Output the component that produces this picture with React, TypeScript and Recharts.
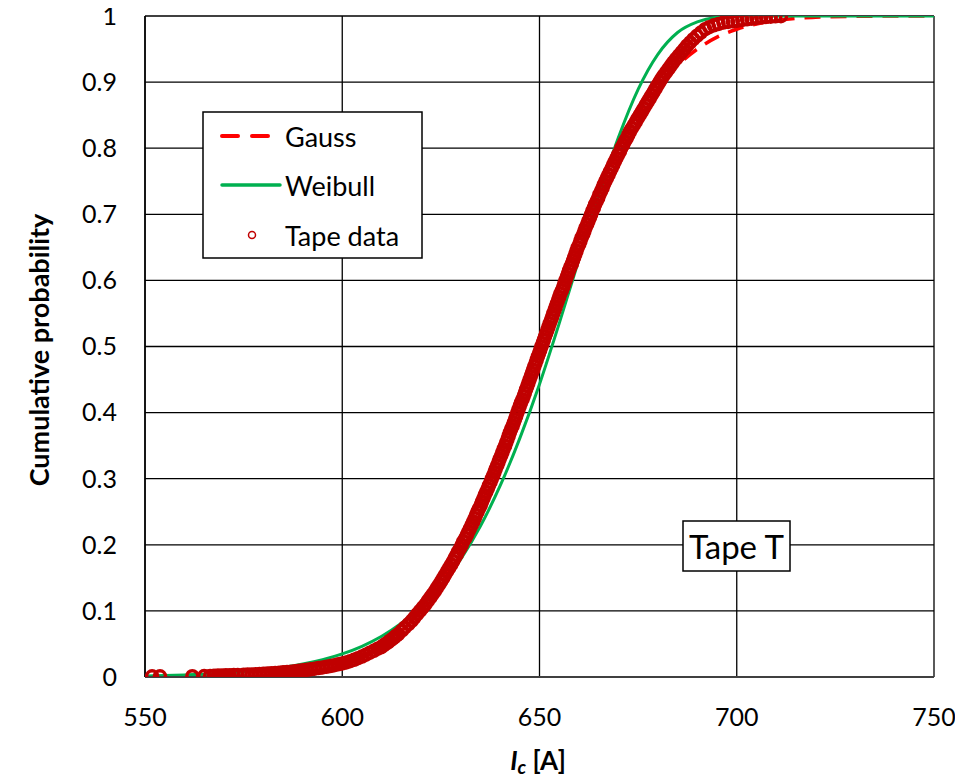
import React from 'react';
import { ComposedChart, Line, Scatter, XAxis, YAxis, CartesianGrid } from 'recharts';

// axis ticks
const xTicks = [550, 600, 650, 700, 750];
const yTicks = [0, 0.1, 0.2, 0.3, 0.4, 0.5, 0.6, 0.7, 0.8, 0.9, 1];

// Gauss fit
const gaussIc = [550, 560, 570, 575, 580, 585, 590, 595, 600, 605, 610, 615, 620, 625, 630, 635, 640, 645, 650, 655, 660, 665, 670, 675, 680, 685, 690, 695, 700, 705, 710, 715, 720, 730, 740, 750];
const gaussP = [0, 0.0001, 0.0004, 0.0008, 0.0016, 0.0032, 0.0059, 0.0104, 0.0179, 0.029, 0.0455, 0.0694, 0.102, 0.145, 0.197, 0.259, 0.331, 0.409, 0.492, 0.574, 0.654, 0.727, 0.792, 0.846, 0.891, 0.925, 0.95, 0.968, 0.98, 0.988, 0.993, 0.9964, 0.998, 0.9995, 0.9999, 1];

// Weibull fit (green curve)
const weibullIc = [550, 555, 560, 565, 570, 575, 580, 585, 590, 595, 600, 605, 610, 615, 620, 625, 630, 635, 640, 645, 650, 655, 660, 665, 670, 675, 680, 685, 690, 695, 700, 705, 750];
const weibullP = [0.0017, 0.0023, 0.0032, 0.0043, 0.0059, 0.008, 0.0108, 0.0146, 0.0196, 0.0262, 0.035, 0.0465, 0.0616, 0.0812, 0.106, 0.138, 0.178, 0.228, 0.289, 0.361, 0.443, 0.535, 0.632, 0.728, 0.816, 0.889, 0.942, 0.975, 0.991, 0.998, 0.9996, 1, 1];

// measured tape data [Ic, cumulative probability]
const tapeData: [number, number][] = [
  [551.8, 0.001], [553.8, 0.001], [562.0, 0.0012], [565.0, 0.0015], [566.5, 0.0017], [567.5, 0.0019], [568.5, 0.0021], [569.5, 0.0023], [570.5, 0.0025], [571.5, 0.0027],
  [572.5, 0.0029], [573.5, 0.0031], [575.0, 0.0034], [576.0, 0.0036], [577.0, 0.0039], [578.0, 0.0042], [579.0, 0.0045], [580.0, 0.0048], [581.0, 0.0052], [582.0, 0.0056],
  [583.0, 0.006], [584.0, 0.0065], [585.0, 0.007], [586.0, 0.0075], [587.0, 0.0081], [588.0, 0.0087], [589.0, 0.0094], [590.0, 0.0101], [591.0, 0.0109], [592.0, 0.0117],
  [593.0, 0.0126], [594.0, 0.0135], [595.0, 0.0145], [596.0, 0.0155], [597.0, 0.0166], [598.0, 0.0178], [599.0, 0.0191], [600.0, 0.0205], [601.0, 0.0221], [602.0, 0.024],
  [603.0, 0.026], [604.0, 0.0284], [605.0, 0.0309], [606.0, 0.0337], [607.0, 0.0367], [608.0, 0.0397], [609.0, 0.0428],
  [609.8, 0.045], [610.4, 0.0475], [611.0, 0.05], [611.6, 0.0525],
  [612.1, 0.055], [612.7, 0.0575], [613.2, 0.06], [613.7, 0.0625], [614.2, 0.065], [615.1, 0.07], [615.9, 0.075],
  [616.8, 0.08], [617.6, 0.085], [618.3, 0.09], [619.0, 0.095], [619.7, 0.1], [620.4, 0.105], [621.1, 0.11], [621.7, 0.115], [622.3, 0.12], [622.9, 0.125],
  [623.5, 0.13], [624.0, 0.135], [624.6, 0.14], [625.1, 0.145], [625.6, 0.15], [626.1, 0.155], [626.6, 0.16], [627.1, 0.165], [627.6, 0.17], [628.1, 0.175],
  [628.5, 0.18], [629.0, 0.185], [629.4, 0.19], [629.9, 0.195], [630.3, 0.2], [630.7, 0.205], [631.2, 0.21], [631.6, 0.215], [632.0, 0.22], [632.4, 0.225],
  [632.8, 0.23], [633.2, 0.235], [633.6, 0.24], [633.9, 0.245], [634.3, 0.25], [634.7, 0.255], [635.1, 0.26], [635.4, 0.265], [635.8, 0.27], [636.1, 0.275],
  [636.5, 0.28], [636.9, 0.285], [637.2, 0.29], [637.6, 0.295], [637.9, 0.3], [638.3, 0.305], [638.6, 0.31], [638.9, 0.315], [639.3, 0.32], [639.6, 0.325],
  [639.9, 0.33], [640.3, 0.335], [640.6, 0.34], [640.9, 0.345], [641.3, 0.35], [641.6, 0.355], [641.9, 0.36], [642.2, 0.365], [642.5, 0.37], [642.8, 0.375],
  [643.2, 0.38], [643.5, 0.385], [643.8, 0.39], [644.1, 0.395], [644.4, 0.4], [644.7, 0.405], [645.0, 0.41], [645.3, 0.415], [645.7, 0.42], [646.0, 0.425],
  [646.3, 0.43], [646.6, 0.435], [646.9, 0.44], [647.2, 0.445], [647.5, 0.45], [647.8, 0.455], [648.1, 0.46], [648.4, 0.465], [648.7, 0.47], [649.0, 0.475],
  [649.3, 0.48], [649.6, 0.485], [649.9, 0.49], [650.2, 0.495], [650.5, 0.5], [650.8, 0.505], [651.1, 0.51], [651.4, 0.515], [651.7, 0.52], [652.0, 0.525],
  [652.3, 0.53], [652.6, 0.535], [652.9, 0.54], [653.2, 0.545], [653.5, 0.55], [653.8, 0.555], [654.1, 0.56], [654.4, 0.565], [654.7, 0.57], [655.0, 0.575],
  [655.3, 0.58], [655.7, 0.585], [656.0, 0.59], [656.3, 0.595], [656.6, 0.6], [656.9, 0.605], [657.2, 0.61], [657.5, 0.615], [657.8, 0.62], [658.2, 0.625],
  [658.5, 0.63], [658.8, 0.635], [659.1, 0.64], [659.4, 0.645], [659.7, 0.65], [660.1, 0.655], [660.4, 0.66], [660.7, 0.665], [661.1, 0.67], [661.4, 0.675],
  [661.7, 0.68], [662.1, 0.685], [662.4, 0.69], [662.8, 0.695], [663.1, 0.7], [663.4, 0.705], [663.8, 0.71], [664.1, 0.715], [664.5, 0.72], [664.9, 0.725],
  [665.2, 0.73], [665.6, 0.735], [666.0, 0.74], [666.3, 0.745], [666.7, 0.75], [667.1, 0.755], [667.5, 0.76], [667.9, 0.765], [668.3, 0.77], [668.7, 0.775],
  [669.1, 0.78], [669.5, 0.785], [669.9, 0.79], [670.4, 0.795], [670.7, 0.8], [671.2, 0.805], [671.6, 0.81], [672.1, 0.815], [672.5, 0.82], [672.9, 0.825],
  [673.4, 0.83], [673.9, 0.835], [674.4, 0.84], [674.9, 0.845], [675.4, 0.85], [675.9, 0.855], [676.4, 0.86], [676.9, 0.865], [677.4, 0.87], [677.9, 0.875],
  [678.4, 0.88], [678.9, 0.885], [679.4, 0.89], [679.9, 0.895], [680.4, 0.9], [680.9, 0.905], [681.5, 0.91], [682.1, 0.915], [682.7, 0.92], [683.3, 0.925],
  [683.9, 0.93], [684.6, 0.935], [685.3, 0.94], [686.0, 0.945], [686.7, 0.95], [687.4, 0.955], [688.2, 0.96], [689.0, 0.965], [689.9, 0.97], [690.9, 0.975],
  [692.0, 0.98], [693.0, 0.983], [694.2, 0.986], [695.4, 0.988], [696.6, 0.99], [697.8, 0.991], [699.0, 0.992], [700.2, 0.993], [701.4, 0.994], [702.6, 0.995],
  [703.8, 0.996], [705.0, 0.997], [706.2, 0.998], [707.4, 0.9985], [708.6, 0.999], [709.8, 0.9995], [711.2, 0.9998],
];

// the wrapper is pulled over the body margin, so these are page pixels
const W = 963;
const H = 777;
const FONT = 'Lato, "Noto Sans", sans-serif';

const gaussData = gaussIc.map((x, i) => ({ x, y: gaussP[i] }));
const weibullData = weibullIc.map((x, i) => ({ x, y: weibullP[i] }));
const tapePoints = tapeData.map(([x, y]) => ({ x, y }));

const Overlay = () => (
  <svg width={W} height={H} style={{ position: 'absolute', left: 0, top: 0, pointerEvents: 'none' }} fontFamily={FONT}>
    {/* legend */}
    <g transform="translate(203,112)">
      <rect x={0} y={0} width={219} height={146} fill="#fff" stroke="#000" strokeWidth={1.5} />
      <line x1={19} x2={67} y1={24} y2={24} stroke="#FF0000" strokeWidth={4} strokeDasharray="16 14" strokeLinecap="round" />
      <text x={82} y={24} fontSize={27} dominantBaseline="central">Gauss</text>
      <line x1={19} x2={77} y1={73} y2={73} stroke="#00B050" strokeWidth={3.5} strokeLinecap="round" />
      <text x={82} y={73} fontSize={27} dominantBaseline="central">Weibull</text>
      <circle cx={49} cy={123} r={3.5} fill="none" stroke="#C00000" strokeWidth={1.5} />
      <text x={82} y={123} fontSize={27} dominantBaseline="central">Tape data</text>
    </g>
    {/* tape label */}
    <rect x={683} y={521} width={107} height={50} fill="#fff" stroke="#000" strokeWidth={1.5} />
    <text x={736.5} y={546} fontSize={33} textAnchor="middle" dominantBaseline="central">Tape T</text>
    {/* axis titles */}
    <text transform="translate(38,350) rotate(-90)" fontSize={27} fontWeight="bold" textAnchor="middle" dominantBaseline="central">
      Cumulative probability
    </text>
    <text x={538} y={760} fontSize={26} fontWeight="bold" textAnchor="middle" dominantBaseline="central">
      <tspan fontStyle="italic">I</tspan>
      <tspan fontStyle="italic" fontSize={19} dy={6}>c</tspan>
      <tspan dy={-6}> [A]</tspan>
    </text>
  </svg>
);

export default function App() {
  return (
    <div style={{ position: 'relative', left: -8, top: -8, width: W, height: H, fontFamily: FONT, background: '#fff' }}>
      <ComposedChart width={W} height={H} margin={{ top: 16, right: 29, bottom: 60, left: 85 }}>
        <CartesianGrid stroke="#000" strokeWidth={1.3} />
        <XAxis
          type="number"
          dataKey="x"
          domain={[550, 750]}
          ticks={xTicks}
          allowDataOverflow
          height={40}
          tickSize={0}
          tickMargin={31}
          tickLine={false}
          axisLine={{ stroke: '#404040', strokeWidth: 2 }}
          tick={{ fill: '#000', fontSize: 25 }}
        />
        <YAxis
          type="number"
          dataKey="y"
          domain={[0, 1]}
          ticks={yTicks}
          allowDataOverflow
          width={60}
          tickSize={0}
          tickMargin={28}
          tickLine={false}
          axisLine={{ stroke: '#000', strokeWidth: 1.5 }}
          tick={{ fill: '#000', fontSize: 25 }}
        />
        <Line data={gaussData} dataKey="y" type="monotone" stroke="#FF0000" strokeWidth={3.5} strokeDasharray="16 10" dot={false} isAnimationActive={false} />
        <Line data={weibullData} dataKey="y" type="monotone" stroke="#00B050" strokeWidth={3} dot={false} isAnimationActive={false} />
        <Scatter
          data={tapePoints}
          dataKey="y"
          isAnimationActive={false}
          shape={(p: any) => <circle cx={p.cx} cy={p.cy} r={5.5} fill="none" stroke="#C00000" strokeWidth={3.5} />}
        />
      </ComposedChart>
      <Overlay />
    </div>
  );
}
